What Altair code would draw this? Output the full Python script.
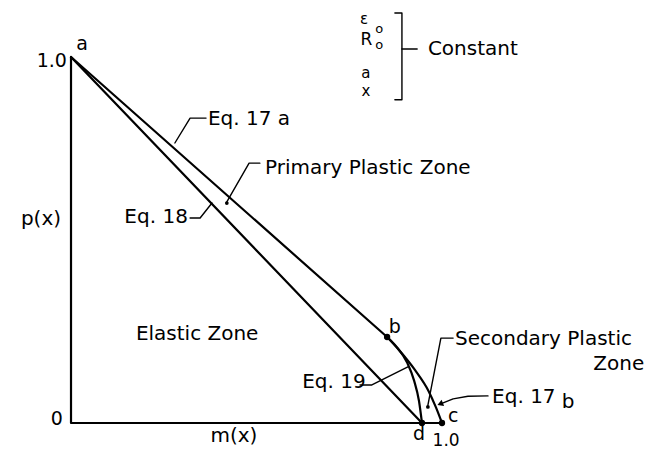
import altair as alt
import pandas as pd

# ---- curves (m(x), p(x)) ----
eq17a_m = [0.0, 0.852]
eq17a_p = [1.0, 0.235]

eq17b_m = [0.852, 0.887, 0.927, 0.964, 0.984, 1.0]
eq17b_p = [0.235, 0.196, 0.145, 0.087, 0.042, 0.0]

eq18_m = [0.0, 0.946]
eq18_p = [1.0, 0.0]

eq19_m = [0.852, 0.876, 0.906, 0.925, 0.938, 0.946]
eq19_p = [0.235, 0.210, 0.165, 0.115, 0.060, 0.0]

axis_m = [0.0, 0.0, 1.0]
axis_p = [1.0, 0.0, 0.0]

# named points b, d, c
pt_names = ["b", "d", "c"]
pt_m = [0.852, 0.946, 1.0]
pt_p = [0.235, 0.0, 0.0]

FONT = "DejaVu Sans"
X_DOM = [-0.1914, 1.5957]
Y_DOM = [-0.0738, 1.1557]

# ---- annotation geometry (data units) ----
leaders = {
    "l17a": ([0.280, 0.321, 0.364], [0.765, 0.833, 0.833]),
    "lprim": ([0.509, 0.480, 0.420], [0.710, 0.710, 0.604]),
    "l18": ([0.321, 0.348, 0.380], [0.560, 0.560, 0.601]),
    "l19": ([0.779, 0.811, 0.908], [0.104, 0.104, 0.153]),
    "lsec": ([1.030, 0.997, 0.962], [0.232, 0.232, 0.049]),
    "l17b": ([1.124, 1.070, 1.030, 0.998], [0.074, 0.073, 0.066, 0.053]),
    "brk": ([0.873, 0.892, 0.892, 0.873], [1.120, 1.120, 0.883, 0.883]),
    "brk_mid": ([0.892, 0.933], [1.022, 1.022]),
}

zone_dots_m = [0.420, 0.962]
zone_dots_p = [0.601, 0.044]

# text: (label, m, p, align, baseline, size)
labels = [
    ("a", 0.030, 1.019, "center", "alphabetic", 19),
    ("1.0", -0.011, 0.973, "right", "alphabetic", 19),
    ("p(x)", -0.081, 0.541, "center", "alphabetic", 20),
    ("0", -0.038, -0.005, "center", "alphabetic", 19),
    ("m(x)", 0.439, -0.052, "center", "alphabetic", 20),
    ("Elastic Zone", 0.340, 0.227, "center", "alphabetic", 20),
    ("Eq. 17 a", 0.369, 0.814, "left", "alphabetic", 20),
    ("Primary Plastic Zone", 0.523, 0.680, "left", "alphabetic", 20),
    ("Eq. 18", 0.315, 0.546, "right", "alphabetic", 20),
    ("Eq. 19", 0.623, 0.096, "left", "alphabetic", 20),
    ("b", 0.873, 0.246, "center", "alphabetic", 19),
    ("Secondary Plastic", 1.035, 0.213, "left", "alphabetic", 20),
    ("Zone", 1.545, 0.145, "right", "alphabetic", 20),
    ("Eq. 17", 1.135, 0.055, "left", "alphabetic", 20),
    ("b", 1.323, 0.041, "left", "alphabetic", 20),
    ("c", 1.030, 0.004, "center", "alphabetic", 19),
    ("d", 0.938, -0.046, "center", "alphabetic", 19),
    ("1.0", 1.011, -0.064, "center", "alphabetic", 17),
    ("Constant", 0.962, 1.005, "left", "alphabetic", 20),
    # parameter stack beside the bracket
    ("\u03b5", 0.790, 1.090, "center", "alphabetic", 15),
    ("o", 0.831, 1.066, "center", "alphabetic", 13),
    ("R", 0.796, 1.033, "center", "alphabetic", 17),
    ("o", 0.831, 1.022, "center", "alphabetic", 13),
    ("a", 0.795, 0.943, "center", "alphabetic", 15),
    ("x", 0.795, 0.893, "center", "alphabetic", 15),
]

# ---- assemble tables ----
rows = []


def add_path(key, ms, ps, width):
    for i, (m, p) in enumerate(zip(ms, ps)):
        rows.append({"m": m, "p": p, "key": key, "ord": i, "w": width})


add_path("axes", axis_m, axis_p, 2.2)
add_path("eq17a", eq17a_m, eq17a_p, 2.2)
add_path("eq18", eq18_m, eq18_p, 2.2)
curve_rows = []
for key, ms, ps in [("eq17b", eq17b_m, eq17b_p), ("eq19", eq19_m, eq19_p)]:
    for i, (m, p) in enumerate(zip(ms, ps)):
        curve_rows.append({"m": m, "p": p, "key": key, "ord": i, "w": 2.2})
for key, (ms, ps) in leaders.items():
    add_path(key, ms, ps, 1.4)

lines_df = pd.DataFrame(rows)
curves_df = pd.DataFrame(curve_rows)
pts_df = pd.DataFrame({"m": pt_m, "p": pt_p, "name": pt_names})
dots_df = pd.DataFrame({"m": zone_dots_m, "p": zone_dots_p})
arrow_df = pd.DataFrame({"m": [0.995], "p": [0.052]})

xs = alt.Scale(domain=X_DOM, nice=False, zero=False)
ys = alt.Scale(domain=Y_DOM, nice=False, zero=False)
X = alt.X("m:Q", scale=xs, axis=None)
Y = alt.Y("p:Q", scale=ys, axis=None)

straight = alt.Chart(lines_df).mark_line(color="black", strokeCap="round", strokeJoin="round").encode(
    x=X, y=Y, detail="key:N", order="ord:Q",
    strokeWidth=alt.StrokeWidth("w:Q", scale=None),
)
curved = alt.Chart(curves_df).mark_line(color="black", interpolate="monotone", strokeCap="round").encode(
    x=X, y=Y, detail="key:N", order="ord:Q",
    strokeWidth=alt.StrokeWidth("w:Q", scale=None),
)
points = alt.Chart(pts_df).mark_circle(color="black", opacity=1, size=40).encode(x=X, y=Y)
dots = alt.Chart(dots_df).mark_circle(color="black", opacity=1, size=14).encode(x=X, y=Y)
arrow = alt.Chart(arrow_df).mark_point(
    shape="triangle-left", filled=True, color="black", opacity=1, size=45, angle=338
).encode(x=X, y=Y)

text_layers = []
groups = {}
for lab, m, p, al, bl, sz in labels:
    groups.setdefault((al, bl, sz), []).append({"t": lab, "m": m, "p": p})
for (al, bl, sz), items in groups.items():
    text_layers.append(
        alt.Chart(pd.DataFrame(items)).mark_text(
            font=FONT, fontSize=sz, align=al, baseline=bl, color="black"
        ).encode(x=X, y=Y, text="t:N")
    )

chart = alt.layer(straight, curved, points, dots, arrow, *text_layers).properties(
    width=663, height=450, autosize=alt.AutoSizeParams(type="none"), padding=0,
    background="white",
).configure_view(stroke=None)

chart.save("out.html", embed_options={"renderer": "svg", "actions": False})
